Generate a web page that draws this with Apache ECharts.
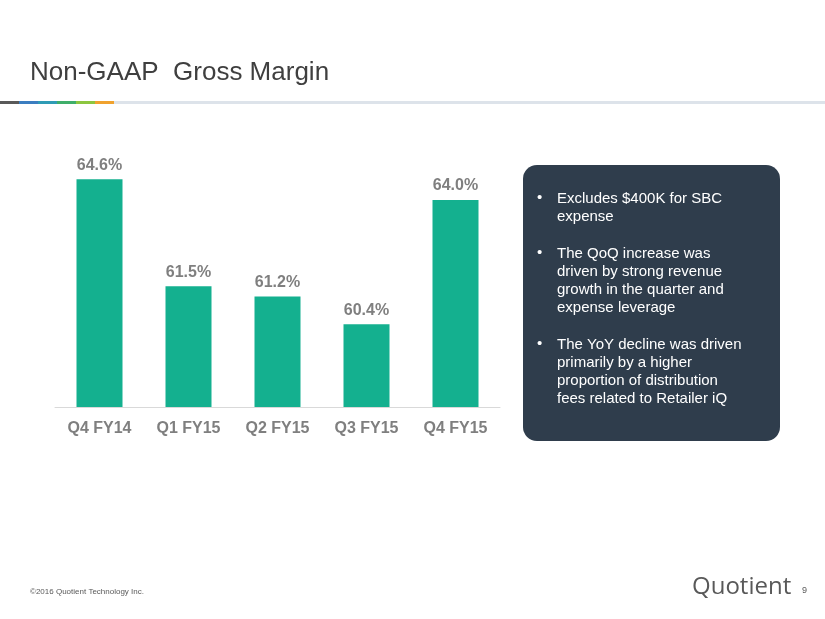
<!DOCTYPE html>
<html><head><meta charset="utf-8">
<script src="https://cdn.jsdelivr.net/npm/echarts@6/dist/echarts.min.js"></script>
<style>html,body{margin:0;padding:0;background:#fff}#c{width:825px;height:619px}</style>
</head><body><div id="c"></div>
<script>
const categories = ['Q4 FY14','Q1 FY15','Q2 FY15','Q3 FY15','Q4 FY15'];
const margins = [64.6, 61.5, 61.2, 60.4, 64.0];
const notes = ['Excludes $400K for SBC\nexpense','The QoQ increase was\ndriven by strong revenue\ngrowth in the quarter and\nexpense leverage','The YoY decline was driven\nprimarily by a higher\nproportion of distribution\nfees related to Retailer iQ'];

const stripColors = ['#595959','#3b7dc0','#2f9bb5','#3fae6a','#8cc63f','#f0a22e'];
const graphic = [
  {type:'text',left:30,top:60,style:{text:'Non-GAAP  Gross Margin',font:'26px Arial, "Liberation Sans"',fill:'#3f3f3f'}},
  {type:'rect',shape:{x:0,y:101,width:825,height:3},style:{fill:'#dde3ea'}}
];
stripColors.forEach((c,i)=>graphic.push({type:'rect',shape:{x:i*19,y:101,width:19,height:3},style:{fill:c}}));
graphic.push({type:'rect',shape:{x:523,y:165,width:257,height:276,r:14},style:{fill:'#2f3d4c'}});
let y=190;
notes.forEach(n=>{
  const lines=n.split('\n').length;
  graphic.push({type:'text',x:537,y:y,style:{text:'•',font:'15px Arial, "Liberation Sans"',fill:'#fff'}});
  graphic.push({type:'text',x:557,y:y,style:{text:n,font:'15px Arial, "Liberation Sans"',fill:'#fff',lineHeight:18}});
  y+=lines*18+19;
});
graphic.push({type:'text',left:30,top:588,style:{text:'©2016 Quotient Technology Inc.',font:'8px Arial, "Liberation Sans"',fill:'#595959'}});
graphic.push({type:'text',left:692,top:575,style:{text:'Quotient',font:'24px "Open Sans", Arial',fill:'#595959'}});
graphic.push({type:'text',left:802,top:586,style:{text:'9',font:'9px Arial',fill:'#595959'}});

const chart = echarts.init(document.getElementById('c'));
chart.setOption({
  animation:false,
  graphic:graphic,
  grid:{left:55,top:165.5,width:445,height:241.5},
  xAxis:{type:'category',data:categories,
    axisLine:{lineStyle:{color:'#d9d9d9',width:1}},axisTick:{show:false},
    axisLabel:{color:'#7f7f7f',fontWeight:'bold',fontSize:16,fontFamily:'Arial, "Liberation Sans"',margin:14}},
  yAxis:{type:'value',min:58,max:65,show:false,splitLine:{show:false}},
  series:[{type:'bar',data:margins,barWidth:46,itemStyle:{color:'#14b08f'},
    label:{show:true,position:'top',formatter:p=>p.value.toFixed(1)+'%',color:'#7f7f7f',fontWeight:'bold',fontSize:16,fontFamily:'Arial, "Liberation Sans"',distance:6}}]
});
</script></body></html>
